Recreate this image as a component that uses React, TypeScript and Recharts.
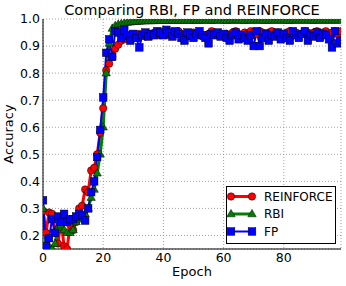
import {
  LineChart,
  Line,
  XAxis,
  YAxis,
  CartesianGrid,
  Legend,
  Label,
  Customized
} from "recharts"

// epochs 0..99
const epochs = Array.from({ length: 100 }, (_, i) => i)

const reinforce = [
  0.29, 0.21, 0.285, 0.28, 0.21, 0.17, 0.26, 0.16, 0.15, 0.24,
  0.22, 0.25, 0.30, 0.31, 0.37, 0.36, 0.44, 0.45, 0.50, 0.58,
  0.67, 0.81, 0.835, 0.86, 0.89, 0.905, 0.92, 0.925, 0.935, 0.93,
  0.94, 0.935, 0.945, 0.94, 0.935, 0.945, 0.94, 0.95, 0.945, 0.94,
  0.945, 0.95, 0.94, 0.945, 0.95, 0.955, 0.945, 0.94, 0.935, 0.945,
  0.95, 0.94, 0.945, 0.935, 0.94, 0.945, 0.955, 0.95, 0.945, 0.94,
  0.935, 0.945, 0.94, 0.95, 0.955, 0.945, 0.94, 0.95, 0.945, 0.955,
  0.95, 0.945, 0.955, 0.95, 0.945, 0.95, 0.955, 0.945, 0.95, 0.94,
  0.945, 0.95, 0.955, 0.945, 0.95, 0.94, 0.945, 0.955, 0.95, 0.945,
  0.95, 0.955, 0.945, 0.95, 0.955, 0.945, 0.95, 0.955, 0.945, 0.955
]

const rbi = [
  0.30, 0.16, 0.16, 0.15, 0.17, 0.23, 0.24, 0.22, 0.21, 0.21,
  0.22, 0.25, 0.26, 0.27, 0.28, 0.30, 0.34, 0.37, 0.43, 0.50,
  0.60, 0.80, 0.91, 0.965, 0.975, 0.98, 0.982, 0.985, 0.987, 0.988,
  0.99, 0.99, 0.991, 0.992, 0.992, 0.993, 0.993, 0.993, 0.994, 0.994,
  0.994, 0.994, 0.994, 0.995, 0.994, 0.995, 0.994, 0.995, 0.995, 0.994,
  0.995, 0.995, 0.994, 0.995, 0.995, 0.995, 0.994, 0.995, 0.995, 0.995,
  0.995, 0.994, 0.995, 0.995, 0.995, 0.995, 0.995, 0.994, 0.995, 0.995,
  0.995, 0.995, 0.995, 0.995, 0.994, 0.995, 0.995, 0.995, 0.995, 0.995,
  0.995, 0.995, 0.994, 0.995, 0.995, 0.995, 0.995, 0.995, 0.995, 0.995,
  0.994, 0.995, 0.995, 0.995, 0.995, 0.995, 0.995, 0.995, 0.995, 0.995
]

const fp = [
  0.33, 0.16, 0.19, 0.26, 0.21, 0.27, 0.25, 0.28, 0.25, 0.26,
  0.26, 0.27, 0.28, 0.275, 0.255, 0.30, 0.36, 0.40, 0.49, 0.59,
  0.71, 0.875, 0.925, 0.86, 0.955, 0.95, 0.93, 0.96, 0.94, 0.92,
  0.945, 0.93, 0.895, 0.94, 0.95, 0.935, 0.945, 0.94, 0.955, 0.95,
  0.94, 0.96, 0.95, 0.935, 0.955, 0.945, 0.93, 0.92, 0.95, 0.94,
  0.93, 0.945, 0.955, 0.94, 0.93, 0.91, 0.945, 0.94, 0.95, 0.935,
  0.945, 0.93, 0.92, 0.94, 0.95, 0.925, 0.94, 0.93, 0.92, 0.94,
  0.90, 0.955, 0.90, 0.93, 0.945, 0.92, 0.94, 0.935, 0.95, 0.925,
  0.945, 0.93, 0.92, 0.955, 0.94, 0.93, 0.945, 0.955, 0.92, 0.94,
  0.935, 0.95, 0.93, 0.945, 0.94, 0.925, 0.895, 0.955, 0.91, 0.92
]

const xTicks = [0, 20, 40, 60, 80]
const yTicks = [0.2, 0.3, 0.4, 0.5, 0.6, 0.7, 0.8, 0.9, 1.0]

const data = epochs.map((e, i) => ({
  epoch: e,
  reinforce: reinforce[i],
  rbi: rbi[i],
  fp: fp[i]
}))

const FONT = "DejaVu Sans"
const RED = "#ff0000"
const GREEN = "#008000"
const BLUE = "#0000ff"

const Circle = ({ cx, cy }: { cx: number; cy: number }) => (
  <circle cx={cx} cy={cy} r={3.7} fill={RED} stroke="#000" strokeWidth={0.5} />
)
const Triangle = ({ cx, cy }: { cx: number; cy: number }) => (
  <polygon
    points={`${cx},${cy - 4.6} ${cx - 4.2},${cy + 2.8} ${cx + 4.2},${cy + 2.8}`}
    fill={GREEN}
    stroke="#000"
    strokeWidth={0.5}
  />
)
const Square = ({ cx, cy }: { cx: number; cy: number }) => (
  <rect x={cx - 3.8} y={cy - 3.8} width={7.6} height={7.6} fill={BLUE} stroke="#000" strokeWidth={0.5} />
)

const makeDot = (Marker: any) => (props: any) => {
  const { cx, cy, index } = props
  if (cx == null || cy == null) return <g key={index} />
  return <Marker key={index} cx={cx} cy={cy} />
}

const legendRows = [
  { label: "REINFORCE", color: RED, width: 3, Marker: Circle },
  { label: "RBI", color: GREEN, width: 3, Marker: Triangle },
  { label: "FP", color: BLUE, width: 2, Marker: Square }
]

const LegendBox = () => (
  <svg width={110} height={58} style={{ display: "block" }}>
    <rect x={0.5} y={0.5} width={109} height={57} fill="#fff" stroke="#000" strokeWidth={1} />
    {legendRows.map((r, i) => {
      const y = 10.5 + i * 17.5
      return (
        <g key={r.label}>
          <line x1={5} x2={26} y1={y} y2={y} stroke={r.color} strokeWidth={r.width} />
          <r.Marker cx={5} cy={y} />
          <r.Marker cx={26} cy={y} />
          <text x={38} y={y + 4.3} fontFamily={FONT} fontSize={12} fill="#000">
            {r.label}
          </text>
        </g>
      )
    })}
  </svg>
)

const Title = () => (
  <text x={192} y={15} textAnchor="middle" fontFamily={FONT} fontSize={14.6} fill="#000">
    Comparing RBI, FP and REINFORCE
  </text>
)

export default function App() {
  const tickStyle = { fontSize: 12.5, fill: "#000", fontFamily: FONT }
  return (
    <div style={{ position: "absolute", left: 0, top: 0, width: 346, height: 286, background: "#fff" }}>
      <LineChart
        width={346}
        height={286}
        data={data}
        margin={{ top: 19, right: 5, left: 0, bottom: 10 }}
      >
        <CartesianGrid stroke="#8a8a8a" strokeDasharray="1 2" strokeWidth={0.8} />
        <XAxis
          dataKey="epoch"
          type="number"
          domain={[0, 99]}
          ticks={xTicks}
          allowDataOverflow
          height={27}
          tickLine={false}
          tickSize={0}
          tickMargin={4}
          tick={tickStyle}
          axisLine={{ stroke: "#000" }}
        >
          <Label value="Epoch" position="insideBottom" offset={0} style={{ fontSize: 13, fill: "#000", fontFamily: FONT }} />
        </XAxis>
        <XAxis
          xAxisId="top"
          orientation="top"
          dataKey="epoch"
          type="number"
          domain={[0, 99]}
          height={0}
          tick={false}
          tickLine={false}
          axisLine={{ stroke: "#000" }}
        />
        <YAxis
          type="number"
          domain={[0.15, 1.0]}
          ticks={yTicks}
          allowDataOverflow
          width={43}
          tickLine={false}
          tickSize={0}
          tickMargin={3}
          tick={tickStyle}
          tickFormatter={(v: number) => v.toFixed(1)}
          axisLine={{ stroke: "#000" }}
        >
          <Label
            value="Accuracy"
            angle={-90}
            position="insideLeft"
            offset={8}
            style={{ fontSize: 13, fill: "#000", fontFamily: FONT, textAnchor: "middle" }}
          />
        </YAxis>
        <YAxis
          yAxisId="right"
          orientation="right"
          domain={[0.15, 1.0]}
          width={0}
          tick={false}
          tickLine={false}
          axisLine={{ stroke: "#000" }}
        />
        <Line
          dataKey="reinforce"
          stroke={RED}
          strokeWidth={3}
          dot={makeDot(Circle)}
          activeDot={false}
          isAnimationActive={false}
        />
        <Line
          dataKey="rbi"
          stroke={GREEN}
          strokeWidth={3}
          dot={makeDot(Triangle)}
          activeDot={false}
          isAnimationActive={false}
        />
        <Line
          dataKey="fp"
          stroke={BLUE}
          strokeWidth={2}
          dot={makeDot(Square)}
          activeDot={false}
          isAnimationActive={false}
        />
        <Legend
          layout="vertical"
          align="center"
          verticalAlign="middle"
          content={() => <LegendBox />}
          wrapperStyle={{ left: 226, top: 186, width: 110, height: 58 }}
        />
        <Customized component={Title} />
      </LineChart>
    </div>
  )
}
